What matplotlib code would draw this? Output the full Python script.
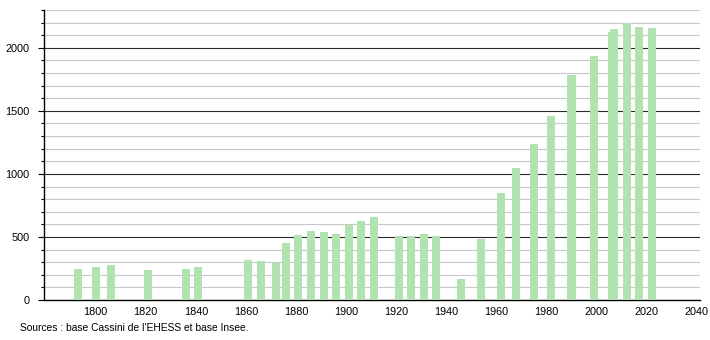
import matplotlib
matplotlib.use("Agg")
import matplotlib.pyplot as plt
from matplotlib.ticker import MultipleLocator

# census years and population
years = [1793, 1800, 1806, 1821, 1836, 1841, 1861, 1866, 1872, 1876,
         1881, 1886, 1891, 1896, 1901, 1906, 1911, 1921, 1926, 1931,
         1936, 1946, 1954, 1962, 1968, 1975, 1982, 1990, 1999, 2006,
         2007, 2012, 2017, 2022]
population = [246, 265, 275, 238, 249, 265, 319, 311, 293, 455,
              519, 551, 537, 527, 593, 630, 662, 511, 511, 527,
              511, 168, 487, 846, 1045, 1237, 1460, 1787, 1934, 2127,
              2148, 2196, 2164, 2156]

x_ticks = [1800, 1820, 1840, 1860, 1880, 1900, 1920, 1940, 1960, 1980, 2000, 2020, 2040]
source_text = "Sources : base Cassini de l'EHESS et base Insee."

plt.rcParams["font.family"] = ["Liberation Sans", "DejaVu Sans"]

fig = plt.figure(figsize=(7.1, 3.4), dpi=100)
ax = fig.add_axes([43.5 / 710, 1 - 300 / 340, (700 - 43.5) / 710, 290 / 340])

ax.bar(years, population, width=3.2, color="#b1e3b1", zorder=3)

ax.set_xlim(1779.2, 2041.3)
ax.set_ylim(0, 2300)
ax.set_xticks(x_ticks)
ax.yaxis.set_major_locator(MultipleLocator(500))
ax.yaxis.set_minor_locator(MultipleLocator(100))

ax.grid(axis="y", which="minor", color="#c8c8c8", linewidth=0.8, zorder=1)
ax.grid(axis="y", which="major", color="#2a2a2a", linewidth=0.8, zorder=2)

for side in ["top", "right"]:
    ax.spines[side].set_visible(False)
ax.spines["left"].set_linewidth(1)
ax.spines["bottom"].set_linewidth(1)

ax.tick_params(axis="x", length=0, pad=5, labelsize=7.8)
ax.tick_params(axis="y", which="major", length=4, width=0.8, pad=6, labelsize=7.8)
ax.tick_params(axis="y", which="minor", length=2, width=0.8)

fig.text(20 / 710, 1 - 328 / 340, source_text, fontsize=7.4, va="center", ha="left")

fig.savefig("out.png", dpi=100)
